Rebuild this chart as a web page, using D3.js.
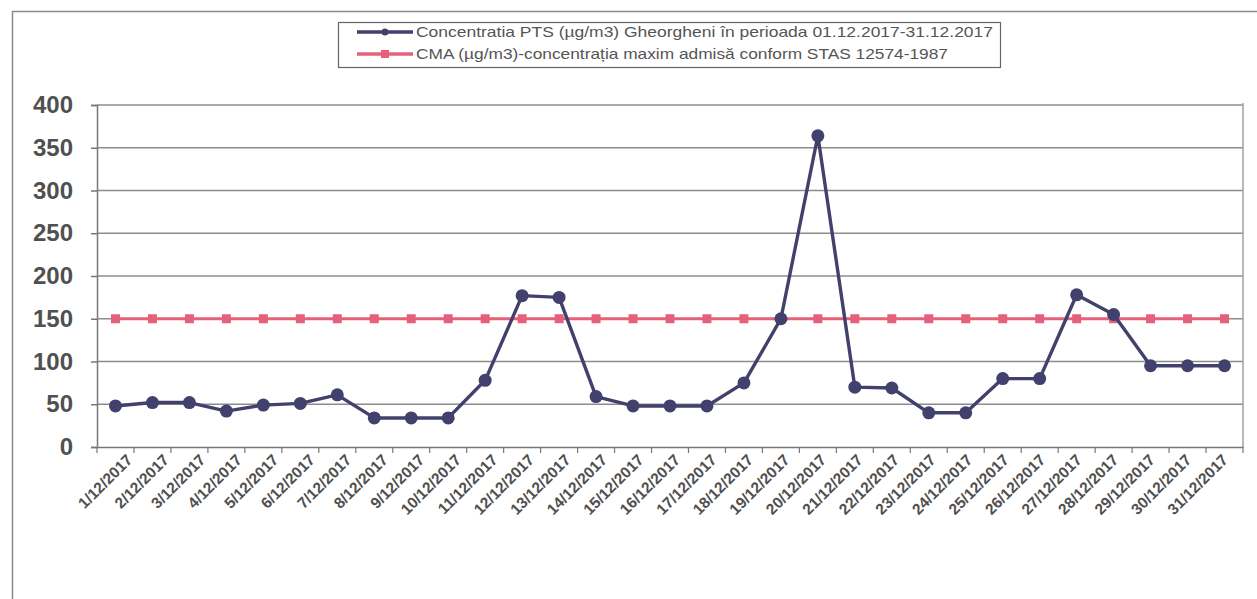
<!DOCTYPE html>
<html><head><meta charset="utf-8">
<script src="https://cdn.jsdelivr.net/npm/d3@7"></script>
<style>body{margin:0;background:#fff}svg{display:block;font-family:"Liberation Sans",Arial,sans-serif}</style>
</head><body>
<svg id="c" width="1257" height="599"></svg>
<script>
const categories = ["1/12/2017","2/12/2017","3/12/2017","4/12/2017","5/12/2017","6/12/2017","7/12/2017","8/12/2017","9/12/2017","10/12/2017","11/12/2017","12/12/2017","13/12/2017","14/12/2017","15/12/2017","16/12/2017","17/12/2017","18/12/2017","19/12/2017","20/12/2017","21/12/2017","22/12/2017","23/12/2017","24/12/2017","25/12/2017","26/12/2017","27/12/2017","28/12/2017","29/12/2017","30/12/2017","31/12/2017"];
const ptsValues = [48,52,52,42,49,51,61,34,34,34,78,177,175,59,48,48,48,75,150,364,70,69,40,40,80,80,178,155,95,95,95];
const cmaValues = [150,150,150,150,150,150,150,150,150,150,150,150,150,150,150,150,150,150,150,150,150,150,150,150,150,150,150,150,150,150,150];
const yTicks = [0,50,100,150,200,250,300,350,400];
const seriesNames = ["Concentratia PTS (\u00b5g/m3) Gheorgheni \u00een perioada 01.12.2017-31.12.2017","CMA (\u00b5g/m3)-concentra\u021bia maxim admis\u0103 conform STAS 12574-1987"];

const svg = d3.select("#c");
const L = 97, R = 1243, T = 105, B = 447;
const blue = "#42416d", red = "#e5607a";

// outer frame
svg.append("rect").attr("x",12.5).attr("y",11.5).attr("width",1300).attr("height",700)
  .attr("fill","none").attr("stroke","#8a8a8a").attr("stroke-width",1.5);

const x = d3.scaleBand().domain(categories).range([L,R]);
const y = d3.scaleLinear().domain([0,400]).range([B,T]);

// gridlines
svg.append("g").selectAll("line").data(yTicks.filter(d=>d>0)).join("line")
  .attr("x1",L).attr("x2",R).attr("y1",d=>y(d)).attr("y2",d=>y(d))
  .attr("stroke","#8c8c8c").attr("stroke-width",1.5);
// right border
svg.append("line").attr("x1",R).attr("x2",R).attr("y1",T-2).attr("y2",B)
  .attr("stroke","#a0a0a0").attr("stroke-width",1.5);

// y axis
const ya = svg.append("g").attr("transform",`translate(${L},0)`)
  .call(d3.axisLeft(y).tickValues(yTicks).tickSize(6).tickPadding(18));
ya.select(".domain").attr("stroke","#777").attr("stroke-width",1.5);
ya.selectAll(".tick line").attr("stroke","#777").attr("stroke-width",1.5);
ya.selectAll("text").attr("font-size","24px").attr("font-weight","bold").attr("fill","#505050")
  .attr("font-family","'Liberation Sans',Arial,sans-serif");

// x axis
const xa = svg.append("g").attr("transform",`translate(0,${B})`)
  .call(d3.axisBottom(x).tickSize(0).tickFormat(""));
xa.select(".domain").attr("stroke","#777").attr("stroke-width",1.5);
svg.append("g").selectAll("line").data(categories.concat(["__end"])).join("line")
  .attr("x1",(d,i)=>L + i*x.step()).attr("x2",(d,i)=>L + i*x.step())
  .attr("y1",B).attr("y2",B+6).attr("stroke","#777").attr("stroke-width",1.2);
svg.append("g").selectAll("text").data(categories).join("text")
  .attr("transform",(d,i)=>`translate(${x(d)+x.bandwidth()/2+14-i*0.45},${B+10}) rotate(-45)`)
  .attr("text-anchor","end").attr("dy","0.35em")
  .attr("font-size","15.5px").attr("font-weight","bold").attr("fill","#505050")
  .text(d=>d);

const cx = d => x(d)+x.bandwidth()/2;

// CMA line
svg.append("path").datum(cmaValues).attr("fill","none").attr("stroke",red).attr("stroke-width",3)
  .attr("d",d3.line().x((d,i)=>cx(categories[i])).y(d=>y(d)));
svg.append("g").selectAll("rect").data(cmaValues).join("rect")
  .attr("x",(d,i)=>cx(categories[i])-4.5).attr("y",d=>y(d)-4.5).attr("width",9).attr("height",9)
  .attr("fill",red);

// PTS line
svg.append("path").datum(ptsValues).attr("fill","none").attr("stroke",blue).attr("stroke-width",3.4)
  .attr("stroke-linejoin","round")
  .attr("d",d3.line().x((d,i)=>cx(categories[i])).y(d=>y(d)));
svg.append("g").selectAll("circle").data(ptsValues).join("circle")
  .attr("cx",(d,i)=>cx(categories[i])).attr("cy",d=>y(d)).attr("r",6.5).attr("fill",blue);

// legend
const lg = svg.append("g");
lg.append("rect").attr("x",338.5).attr("y",22.5).attr("width",662).attr("height",45)
  .attr("fill","#fff").attr("stroke","#666").attr("stroke-width",1.2);
const rows = [{c:blue,y:32,w:577,m:"circle"},{c:red,y:54,w:532,m:"square"}];
rows.forEach((r,i)=>{
  lg.append("line").attr("x1",357).attr("x2",413).attr("y1",r.y).attr("y2",r.y)
    .attr("stroke",r.c).attr("stroke-width",3.5);
  if(r.m==="circle") lg.append("circle").attr("cx",385).attr("cy",r.y).attr("r",3.5).attr("fill",r.c);
  else lg.append("rect").attr("x",381).attr("y",r.y-4).attr("width",8).attr("height",8).attr("fill",r.c);
  lg.append("text").attr("x",416).attr("y",r.y).attr("dy","0.35em")
    .attr("font-size","15px").attr("fill","#555")
    .attr("textLength",r.w).attr("lengthAdjust","spacingAndGlyphs")
    .text(seriesNames[i]);
});
</script>
</body></html>
